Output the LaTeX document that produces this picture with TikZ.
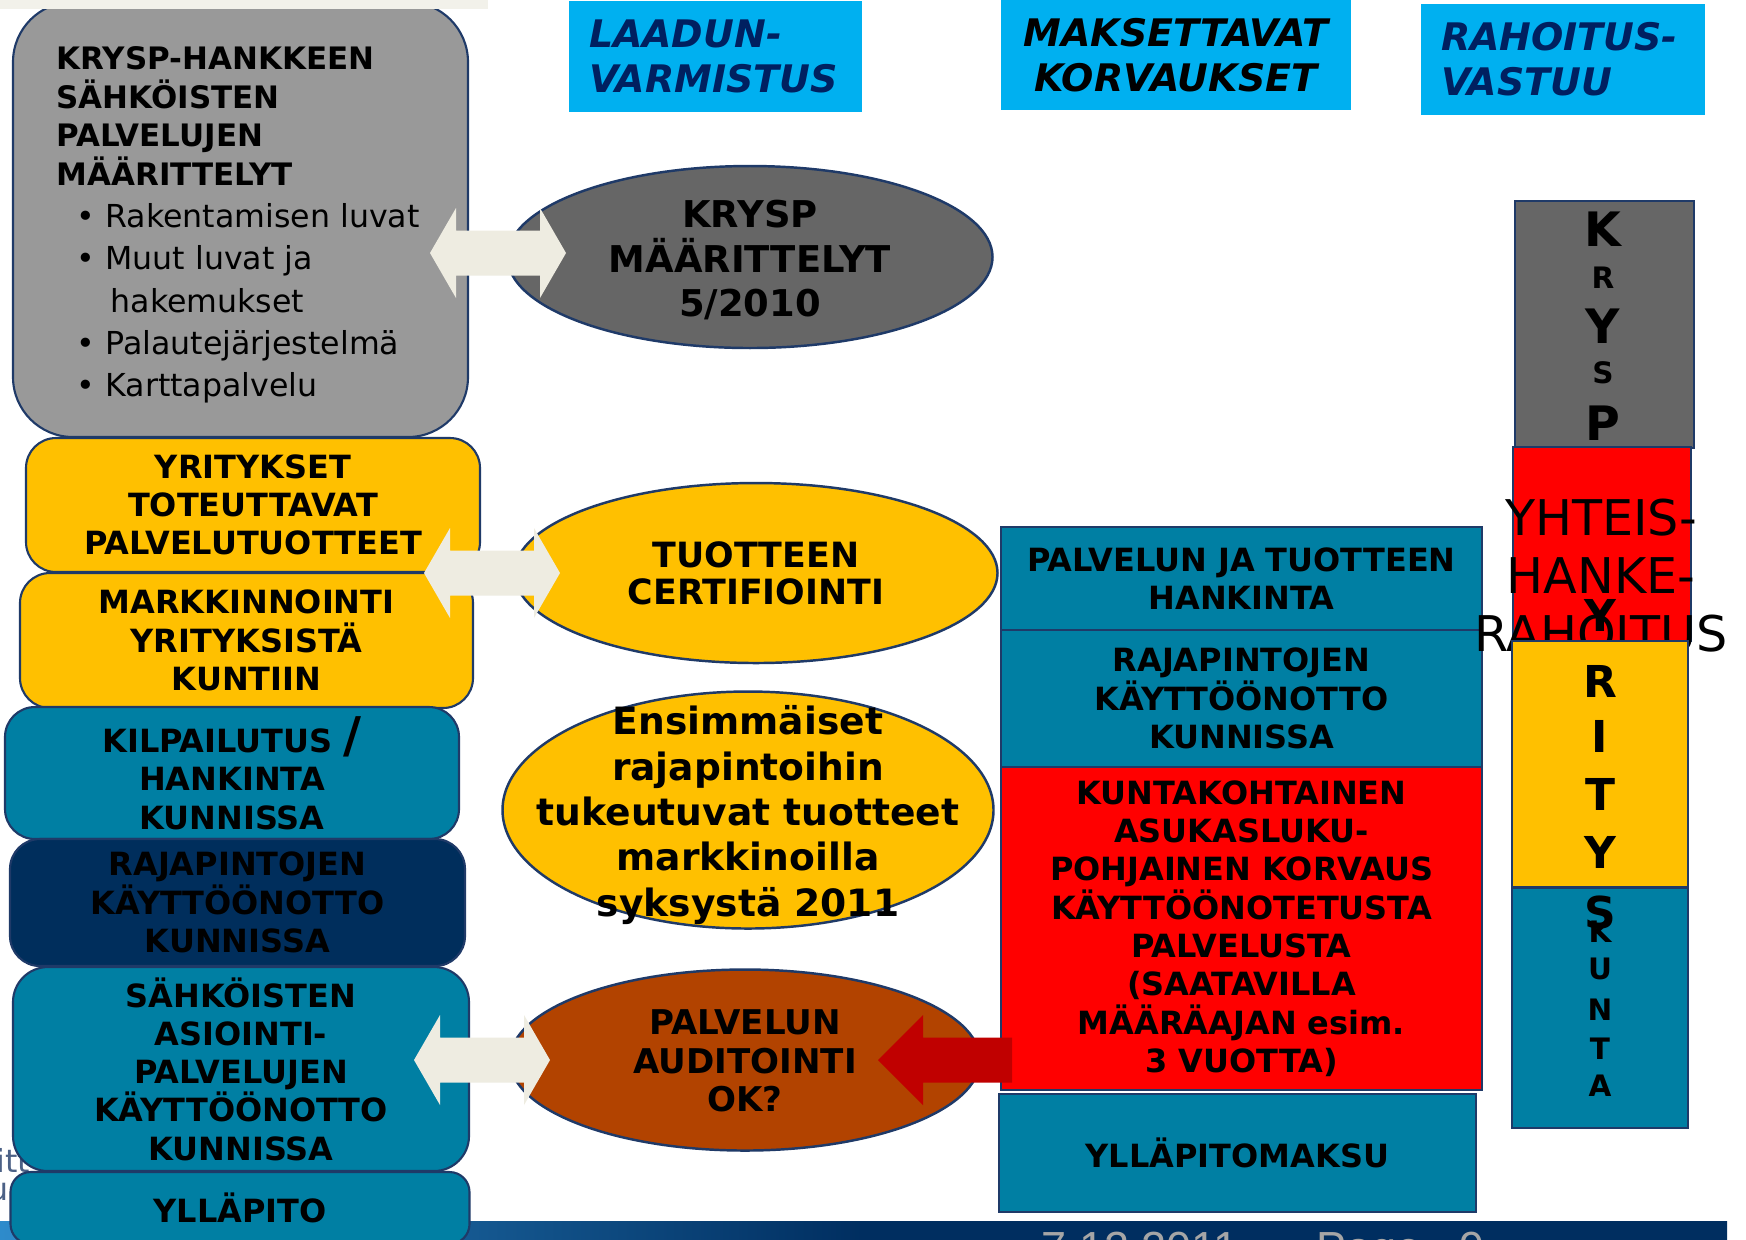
\documentclass[tikz,border=0pt]{standalone}
\usepackage{fontspec}
\setmainfont{DejaVu Sans}[ItalicFont={DejaVu Sans Oblique},BoldItalicFont={DejaVu Sans Bold Oblique}]
\newfontfamily\datefont{Liberation Sans}
\usepackage{tikz}
\usepackage{xcolor}
\usetikzlibrary{shapes.geometric}
\definecolor{skyhead}{HTML}{00B0F0}
\definecolor{headnavy}{HTML}{002060}
\definecolor{greyfill}{HTML}{999999}
\definecolor{darkfill}{HTML}{666666}
\definecolor{sunfill}{HTML}{FFC000}
\definecolor{tealfill}{HTML}{007FA3}
\definecolor{navyfill}{HTML}{002E5C}
\definecolor{rustfill}{HTML}{B24300}
\definecolor{creamfill}{HTML}{EEECE1}
\definecolor{darkred}{HTML}{C00000}
\definecolor{edgecolor}{HTML}{1F3A68}
\definecolor{stripfill}{HTML}{F2F1EA}
\definecolor{bandnavy}{HTML}{002E60}
\definecolor{bandblue}{HTML}{2E8BCB}
\colorlet{redfill}{red}
\newcommand{\bodyfont}{\fontsize{9.1}{10.9}\selectfont\bfseries}
\newcommand{\bigletter}{\fontsize{13.5}{13.5}\selectfont\bfseries}
\newcommand{\midletter}{\fontsize{12.5}{12.5}\selectfont\bfseries}
\newcommand{\smallletter}{\fontsize{8.4}{8.4}\selectfont\bfseries}
\newcommand{\twoway}[2]{% block arrow both ways, left tip at (#1,#2)
\fill[creamfill] (#1,#2) -- (#1+26,#2-45) -- (#1+26,#2-22.5) -- (#1+110,#2-22.5)
    -- (#1+110,#2-45) -- (#1+136,#2) -- (#1+110,#2+45) -- (#1+110,#2+22.5)
    -- (#1+26,#2+22.5) -- (#1+26,#2+45) -- cycle;}
\tikzstyle{roundbox} = [
    draw=edgecolor,
    line width=0.6pt,
    rectangle,
    inner sep=0pt,
    align=center,
    font=\bodyfont
    ]
\tikzstyle{tablebox} = [roundbox, fill=tealfill]
\tikzstyle{headbox} = [
    fill=skyhead,
    inner xsep=2mm,
    inner ysep=0pt,
    font=\fontsize{10.8}{12.8}\selectfont\bfseries\itshape
    ]
\tikzstyle{oval} = [ellipse, draw=edgecolor, line width=0.7pt, inner sep=0pt]
\tikzstyle{ovaltext} = [align=center, inner sep=0pt]

\begin{document}
\begin{tikzpicture}[x=0.1mm, y=-0.1mm]
\useasboundingbox (0,0) rectangle (1746,1239);
\clip (0,0) rectangle (1746,1239);
\fill[white] (0,0) rectangle (1746,1239);

% footer band
\shade[left color=bandblue, right color=bandnavy, middle color=bandnavy] (0,1221) rectangle (1727,1245);
\node[anchor=base west, inner sep=0pt, text=black!35, font=\datefont\fontsize{12.8}{12.8}\selectfont] (date) at (1041,1263) {7.12.2011\hspace{7.8mm}Page\hspace{3.8mm}9};
\node[anchor=base west, inner sep=0pt, text=edgecolor!80, font=\fontsize{9}{9}\selectfont] (fragtop) at (-4,1172) {itt};
\node[anchor=base west, inner sep=0pt, text=edgecolor!80, font=\fontsize{9}{9}\selectfont] (fragbottom) at (-12,1200) {u};

% left column
\node[roundbox, fill=greyfill, rounded corners=6mm, minimum width=45.5mm, minimum height=43.5mm] (maarittelyt) at (240.5,219.5) {};
\node[anchor=north west, align=left, inner sep=0pt, font=\fontsize{8.8}{10.95}\selectfont\bfseries] (maarittelyhead) at (56,46) {KRYSP-HANKKEEN\\SÄHKÖISTEN\\PALVELUJEN\\MÄÄRITTELYT};
\node[anchor=north west, align=left, inner sep=0pt, font=\fontsize{9}{12}\selectfont] (maarittelylist) at (76,203) {•\ Rakentamisen luvat\\•\ Muut luvat ja\\\phantom{•\ }\,hakemukset\\•\ Palautejärjestelmä\\•\ Karttapalvelu};
\fill[stripfill] (0,0) rectangle (488,9);
\node[roundbox, fill=sunfill, rounded corners=3mm, minimum width=45.4mm, minimum height=13.4mm] (yritykset) at (253,505) {YRITYKSET\\TOTEUTTAVAT\\PALVELUTUOTTEET};
\node[roundbox, fill=sunfill, rounded corners=3mm, minimum width=45.3mm, minimum height=13.5mm] (markkinointi) at (246.5,640.5) {MARKKINNOINTI\\YRITYKSISTÄ\\KUNTIIN};
\node[roundbox, fill=tealfill, rounded corners=3mm, minimum width=45.4mm, minimum height=13.2mm] (kilpailutus) at (232,773) {KILPAILUTUS {\fontsize{14}{10.9}\selectfont/}\\HANKINTA\\KUNNISSA};
\node[roundbox, fill=navyfill, rounded corners=3mm, minimum width=45.5mm, minimum height=12.7mm] (rajapinnat) at (237.5,902.5) {RAJAPINTOJEN\\KÄYTTÖÖNOTTO\\KUNNISSA};
\node[roundbox, fill=tealfill, rounded corners=3.5mm, minimum width=45.6mm, minimum height=20.4mm] (asiointi) at (241,1069) {SÄHKÖISTEN\\ASIOINTI-\\PALVELUJEN\\KÄYTTÖÖNOTTO\\KUNNISSA};
\node[roundbox, fill=tealfill, rounded corners=2mm, minimum width=45.9mm, minimum height=7.2mm] (yllapito) at (240,1208) {YLLÄPITO};

% headings
\node[headbox, text=headnavy, text width=25.3mm, align=left, minimum height=11.1mm] (laadun) at (715.5,56.5) {LAADUN-\\VARMISTUS};
\node[headbox, text=black, inner xsep=1.5mm, text width=32mm, align=center, minimum height=11mm] (maksettavat) at (1176,55) {MAKSETTAVAT\\KORVAUKSET};
\node[headbox, text=headnavy, text width=24.4mm, align=left, minimum height=11.1mm] (rahoitus) at (1563,59.5) {RAHOITUS-\\VASTUU};

% middle column
\node[oval, fill=darkfill, minimum width=48.5mm, minimum height=18.2mm] (krysp) at (750,257) {};
\node[ovaltext, font=\fontsize{10.5}{12.8}\selectfont\bfseries] (krysptext) at (750,260) {KRYSP\\MÄÄRITTELYT\\5/2010};
\node[oval, fill=sunfill, minimum width=48.3mm, minimum height=18mm] (certifiointi) at (756,573) {};
\node[ovaltext, font=\fontsize{9.9}{10.5}\selectfont\bfseries] (certtext) at (certifiointi.center) {TUOTTEEN\\CERTIFIOINTI};
\node[oval, fill=sunfill, minimum width=49.1mm, minimum height=23.7mm] (markkinoilla) at (748,810) {};
\node[ovaltext, font=\fontsize{10.7}{12.9}\selectfont\bfseries] (markkinatext) at (748,815) {Ensimmäiset\\rajapintoihin\\tukeutuvat tuotteet\\markkinoilla\\syksystä 2011};
\node[oval, fill=rustfill, minimum width=47mm, minimum height=18.1mm] (auditointi) at (745,1060) {};
\node[ovaltext, font=\fontsize{9.7}{10.9}\selectfont\bfseries] (audittext) at (745,1061) {PALVELUN\\AUDITOINTI\\OK?};
\twoway{430}{253}
\twoway{424}{573}
\twoway{414}{1060}

% payments
\node[tablebox, minimum width=48.1mm, minimum height=10.3mm] (hankinta) at (1241.5,578.5) {PALVELUN JA TUOTTEEN\\HANKINTA};
\node[tablebox, minimum width=48.1mm, minimum height=13.7mm] (kayttoonotto) at (1241.5,698.5) {RAJAPINTOJEN\\KÄYTTÖÖNOTTO\\KUNNISSA};
\node[tablebox, fill=redfill, minimum width=48.1mm, minimum height=32.3mm] (korvaus) at (1241.5,928.5) {KUNTAKOHTAINEN\\ASUKASLUKU-\\POHJAINEN KORVAUS\\KÄYTTÖÖNOTETUSTA\\PALVELUSTA\\(SAATAVILLA\\MÄÄRÄAJAN esim.\\3 VUOTTA)};
\node[tablebox, minimum width=47.7mm, minimum height=11.8mm] (maksu) at (1237.5,1153) {YLLÄPITOMAKSU};
\fill[darkred] (878,1060) -- (923,1015) -- (923,1037.5) -- (1012,1037.5) -- (1012,1082.5) -- (923,1082.5) -- (923,1105) -- cycle;

% funding column
\node[roundbox, fill=darkfill, minimum width=17.9mm, minimum height=24.7mm] (kryspcol) at (1604.5,324.5) {};
\node[roundbox, fill=redfill, minimum width=17.8mm, minimum height=19.4mm] (yhteiscol) at (1602,544) {};
\node[align=center, inner sep=0pt, font=\fontsize{14}{16.5}\selectfont] (yhteistext) at (1601,576) {YHTEIS-\\HANKE-\\RAHOITUS};
\node[roundbox, fill=sunfill, minimum width=17.6mm, minimum height=24.6mm] (yrityscol) at (1600,764) {};
\node[roundbox, fill=tealfill, minimum width=17.6mm, minimum height=24mm] (kuntacol) at (1600,1008) {};
\foreach \ch/\yy/\sz [count=\i] in {K/229/\bigletter, R/278/\smallletter, Y/326/\bigletter, S/373/\smallletter, P/423/\bigletter}
  \node[font=\sz, inner sep=0pt] (kryspch\i) at (1603,\yy) {\ch};
\foreach \ch/\yy [count=\i] in {Y/615, R/681, I/736, T/794, Y/852, S/912}
  \node[font=\midletter, inner sep=0pt] (yritysch\i) at (1600,\yy) {\ch};
\foreach \ch/\yy [count=\i] in {K/932, U/969, N/1010, T/1049, A/1086}
  \node[font=\smallletter, inner sep=0pt] (kuntach\i) at (1600,\yy) {\ch};
\end{tikzpicture}
\end{document}
